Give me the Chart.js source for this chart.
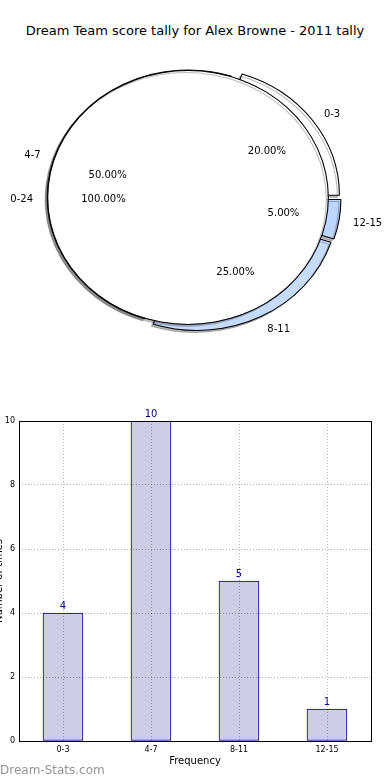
<!DOCTYPE html>
<html>
<head>
<meta charset="utf-8">
<script src="https://cdn.jsdelivr.net/npm/chart.js@4.4.1/dist/chart.umd.min.js"></script>
<style>
    body { margin: 0; width: 390px; height: 780px; overflow: hidden; background: #fff; position: relative; font-family: "DejaVu Sans", sans-serif; }
    canvas { position: absolute; }
    #title { position: absolute; left: 0; top: 23px; width: 390px; text-align: center; font-size: 13px; color: #000; }
    #brand { position: absolute; left: 0; top: 763px; font-size: 12px; color: #949494; }
</style>
</head>
<body>
<div id="title">Dream Team score tally for Alex Browne - 2011 tally</div>
<canvas id="pieOuter" width="390" height="400" style="left:0;top:0"></canvas>
<canvas id="pieInner" width="390" height="400" style="left:0;top:0"></canvas>
<canvas id="bars" width="399" height="380" style="left:-9px;top:400px"></canvas>
<div id="brand">Dream-Stats.com</div>

<script>
// data
const scoreBands = ['0-3', '4-7', '8-11', '12-15'];
const bandCounts = [4, 10, 5, 1];
const seasonBand = '0-24';
const seasonTotal = bandCounts.reduce((a, b) => a + b, 0);
const yMax = 10;
const yStep = 2;

// look of the pie
const sliceColors = ['#ffffff', '#ffffff', '#c6dcff', '#bcd6ff'];
const sliceShift = [[10.5, -2.3], [0, 0], [9, 5.4], [12, 2]];   // pulled out slices, in px
const PIE_R = 127.5;
const STRETCH = 1.105;   // the original pie is a bit wider than tall

Chart.defaults.font.family = '"DejaVu Sans", sans-serif';
Chart.defaults.color = '#000';

// matplotlib goes round counter clockwise, chart.js clockwise
const pieIdx = [3, 2, 1, 0];

function centerOf(chart) {
    const a = chart.chartArea;
    return { x: (a.left + a.right) / 2, y: (a.top + a.bottom) / 2 };
}

const squash = {
    id: 'squash',
    beforeDatasetsDraw(chart) {
        const ctx = chart.ctx;
        const c = centerOf(chart);
        ctx.save();
        ctx.translate(c.x, c.y);
        ctx.scale(STRETCH, 1);
        ctx.translate(-c.x, -c.y);
        ctx.shadowColor = 'rgba(60,60,60,0.35)';
        ctx.shadowOffsetX = -2;
        ctx.shadowOffsetY = 2;
        ctx.shadowBlur = 0;
    },
    afterDatasetsDraw(chart) {
        chart.ctx.restore();
    }
};

const explode = {
    id: 'explode',
    afterDatasetUpdate(chart, args) {
        args.meta.data.forEach((arc, i) => {
            const s = sliceShift[pieIdx[i]];
            arc.x += s[0] / STRETCH;
            arc.y += s[1];
        });
    }
};

function labelSpot(chart, arc, k) {
    const c = centerOf(chart);
    const p = arc.getProps(['x', 'y', 'startAngle', 'endAngle', 'outerRadius'], true);
    const mid = (p.startAngle + p.endAngle) / 2;
    const d = k * p.outerRadius;
    return {
        x: c.x + STRETCH * (p.x + d * Math.cos(mid) - c.x),
        y: p.y + d * Math.sin(mid) + 1.5,
        right: Math.cos(mid) > 0
    };
}

function writeLabels(chart, arc, name, value) {
    const ctx = chart.ctx;
    const pct = (value / seasonTotal * 100).toFixed(2) + '%';
    const out = labelSpot(chart, arc, 1.1);
    ctx.textAlign = out.right ? 'left' : 'right';
    ctx.fillText(name, out.x, out.y);
    const inn = labelSpot(chart, arc, 0.6);
    ctx.textAlign = 'center';
    ctx.fillText(pct, inn.x, inn.y);
}

let outerPie;

const pieText = {
    id: 'pieText',
    afterDraw(chart) {
        const ctx = chart.ctx;
        ctx.save();
        ctx.font = '10px "DejaVu Sans"';
        ctx.fillStyle = '#000';
        ctx.textBaseline = 'middle';
        outerPie.getDatasetMeta(0).data.forEach((arc, i) => {
            const b = pieIdx[i];
            writeLabels(chart, arc, scoreBands[b], bandCounts[b]);
        });
        const whole = chart.getDatasetMeta(0).data[0];
        writeLabels(chart, whole, seasonBand, seasonTotal);
        ctx.restore();
    }
};

const pieBase = {
    responsive: false,
    animation: false,
    devicePixelRatio: 1,
    rotation: 90,
    radius: PIE_R,
    layout: { padding: { left: 0, top: 0, right: 14, bottom: 5 } },
    plugins: { legend: { display: false }, tooltip: { enabled: false } }
};

outerPie = new Chart(document.getElementById('pieOuter'), {
    type: 'pie',
    data: {
        labels: pieIdx.map(i => scoreBands[i]),
        datasets: [{
            data: pieIdx.map(i => bandCounts[i]),
            backgroundColor: pieIdx.map(i => sliceColors[i]),
            borderColor: '#000',
            borderWidth: 1
        }]
    },
    options: pieBase,
    plugins: [explode, squash]
});

// inner pie: a thin black ring as its edge and a white disc
new Chart(document.getElementById('pieInner'), {
    type: 'pie',
    data: {
        labels: [seasonBand],
        datasets: [
            { data: [seasonTotal], backgroundColor: '#000', borderWidth: 0, weight: 1 },
            { data: [seasonTotal], backgroundColor: '#fff', borderWidth: 0, weight: PIE_R - 1 }
        ]
    },
    options: pieBase,
    plugins: [squash, pieText]
});

const frame = {
    id: 'frame',
    afterDraw(chart) {
        const a = chart.chartArea;
        const ctx = chart.ctx;
        ctx.save();
        ctx.strokeStyle = '#000';
        ctx.lineWidth = 1;
        ctx.strokeRect(Math.round(a.left) + 0.5, Math.round(a.top) + 0.5, Math.round(a.right - a.left), Math.round(a.bottom - a.top));
        ctx.restore();
    }
};

const valueTags = {
    id: 'valueTags',
    afterDatasetsDraw(chart) {
        const ctx = chart.ctx;
        ctx.save();
        ctx.font = '10px "DejaVu Sans"';
        ctx.fillStyle = '#000080';
        ctx.textAlign = 'center';
        ctx.textBaseline = 'bottom';
        chart.getDatasetMeta(0).data.forEach((bar, i) => {
            ctx.fillText(String(bandCounts[i]), bar.x, bar.y - 2);
        });
        ctx.restore();
    }
};

const gridLook = { color: 'rgba(0,0,0,0.3)', drawTicks: false, z: 1 };

new Chart(document.getElementById('bars'), {
    type: 'bar',
    data: {
        labels: scoreBands,
        datasets: [{
            data: bandCounts,
            backgroundColor: '#ccccE5',
            borderColor: '#000080',
            borderWidth: 1,
            borderSkipped: false,
            barThickness: 40
        }]
    },
    options: {
        responsive: false,
        animation: false,
        devicePixelRatio: 1,
        layout: { padding: { left: 0, top: 21, right: 19, bottom: 11 } },
        plugins: { legend: { display: false }, tooltip: { enabled: false } },
        scales: {
            x: {
                grid: { ...gridLook, offset: false },
                border: { display: false, dash: [1, 2] },
                ticks: { font: { size: 8 }, color: '#000', padding: 4 },
                title: { display: true, text: 'Frequency', font: { size: 10 }, color: '#000', padding: { top: 0, bottom: 2 } },
                afterFit: s => { s.height = 28; }
            },
            y: {
                min: 0,
                max: yMax,
                grid: gridLook,
                border: { display: false, dash: [1, 2] },
                ticks: { stepSize: yStep, font: { size: 8 }, color: '#000', padding: 4 },
                title: { display: true, text: 'Number of times', font: { size: 10 }, color: '#000', padding: { top: 2, bottom: 0 } },
                afterFit: s => { s.width = 28; }
            }
        }
    },
    plugins: [frame, valueTags]
});
</script>
</body>
</html>
